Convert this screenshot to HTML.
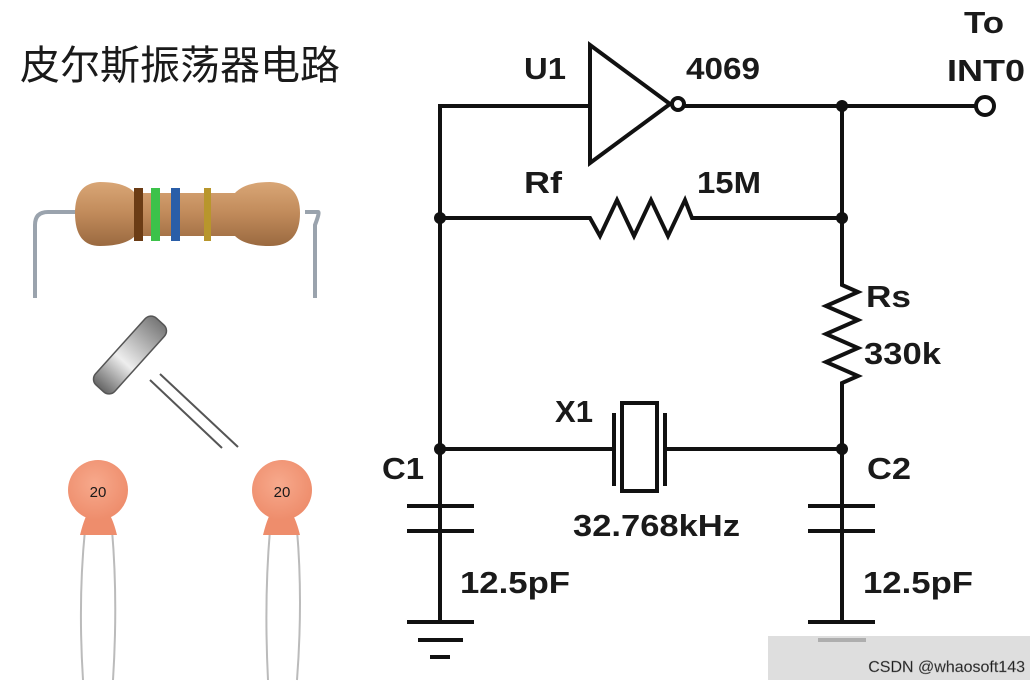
<!DOCTYPE html>
<html><head><meta charset="utf-8"><style>
body{margin:0;background:#fff;width:1035px;height:684px;overflow:hidden}
svg{display:block}
text{font-family:"Liberation Sans",Arial,sans-serif;font-weight:bold;fill:#1a1a1a}
</style></head><body>
<svg width="1035" height="684" viewBox="0 0 1035 684" xmlns="http://www.w3.org/2000/svg">
<defs>
<linearGradient id="rb" x1="0" y1="0" x2="0" y2="1"><stop offset="0" stop-color="#d9a676"/><stop offset="0.5" stop-color="#c08a5a"/><stop offset="1" stop-color="#9a6a40"/></linearGradient>
<linearGradient id="cy" x1="0" y1="0" x2="1" y2="0"><stop offset="0" stop-color="#666"/><stop offset="0.4" stop-color="#eee"/><stop offset="1" stop-color="#777"/></linearGradient>
<radialGradient id="cp" cx="0.45" cy="0.4" r="0.6"><stop offset="0" stop-color="#f7a98c"/><stop offset="1" stop-color="#ee8d6c"/></radialGradient>
</defs>
<text x="20" y="79" style="font-family:'Liberation Sans','Noto Sans CJK SC',sans-serif;font-weight:normal;font-size:40px" fill="#222">皮尔斯振荡器电路</text>
<!-- resistor photo -->
<path d="M35 298 V225 Q35 212 48 212 H80 M305 212 H318 Q320 212 315 225 V298" stroke="#9aa3ad" stroke-width="4" fill="none"/>
<path d="M75 213 Q75 183 100 182 Q125 182 135 193 H235 Q245 182 270 182 Q300 183 300 213 Q300 246 270 246 Q245 246 235 236 H135 Q125 246 100 246 Q75 246 75 213Z" fill="url(#rb)"/>
<rect x="134" y="188" width="9" height="53" fill="#6b3c15"/>
<rect x="151" y="188" width="9" height="53" fill="#3cc24a"/>
<rect x="171" y="188" width="9" height="53" fill="#2a5ea8"/>
<rect x="204" y="188" width="7" height="53" fill="#b8962c"/>
<!-- crystal photo -->
<line x1="150" y1="380" x2="222" y2="448" stroke="#555" stroke-width="2"/>
<line x1="160" y1="374" x2="238" y2="447" stroke="#555" stroke-width="2"/>
<g transform="rotate(-48 130 355)"><rect x="85" y="342" width="90" height="26" rx="8" fill="url(#cy)" stroke="#555" stroke-width="1.5"/></g>
<!-- capacitors photo -->
<g>
<path d="M83 680 Q78 600 85 530 M113 680 Q118 600 112 530" stroke="#bbb" stroke-width="2" fill="none"/>
<path d="M268 680 Q264 600 270 530 M297 680 Q303 600 297 530" stroke="#bbb" stroke-width="2" fill="none"/>
<path d="M80 535 Q85 515 90 510 L106 510 Q112 515 117 535Z" fill="#ee8d6c"/>
<path d="M263 535 Q268 515 273 510 L289 510 Q295 515 300 535Z" fill="#ee8d6c"/>
<circle cx="98" cy="490" r="30" fill="url(#cp)"/>
<circle cx="282" cy="490" r="30" fill="url(#cp)"/>
<text x="98" y="497" text-anchor="middle" style="font-size:15px;font-weight:normal" fill="#7a2a3a">20</text>
<text x="282" y="497" text-anchor="middle" style="font-size:15px;font-weight:normal" fill="#7a2a3a">20</text>
</g>
<!-- schematic -->
<g stroke="#111" stroke-width="4" fill="none" stroke-linejoin="miter">
<path d="M440 622 V106 H590"/>
<path d="M590 45 V163 L670 104 Z"/>
<circle cx="678" cy="104" r="6"/>
<path d="M684 106 H975"/>
<circle cx="985" cy="106" r="9"/>
<path d="M842 106 V285 L858 292 L826 306 L858 320 L826 334 L858 348 L826 362 L858 376 L842 383 V622"/>
<path d="M440 218 H590 L600 236 L617 200 L634 236 L651 200 L668 236 L685 200 L692 218 H842"/>
<path d="M440 449 H614 M665 449 H842"/>
<path d="M614 413 V486 M665 413 V486"/>
<rect x="622" y="403" width="35" height="88"/>
<path d="M407 506 H474 M407 531 H474 M440 531 V622"/>
<path d="M407 622 H474 M418 640 H463 M430 657 H450"/>
<path d="M808 506 H875 M808 531 H875"/>
<path d="M808 622 H875 M818 640 H866"/>
</g>
<g fill="#111">
<circle cx="842" cy="106" r="6"/><circle cx="440" cy="218" r="6"/><circle cx="842" cy="218" r="6"/>
<circle cx="440" cy="449" r="6"/><circle cx="842" cy="449" r="6"/>
</g>
<g style="font-size:31px">
<text x="524" y="79" textLength="42" lengthAdjust="spacingAndGlyphs">U1</text>
<text x="686" y="79" textLength="74" lengthAdjust="spacingAndGlyphs">4069</text>
<text x="964" y="33" textLength="40" lengthAdjust="spacingAndGlyphs">To</text>
<text x="947" y="81" textLength="78" lengthAdjust="spacingAndGlyphs">INT0</text>
<text x="524" y="193" textLength="38" lengthAdjust="spacingAndGlyphs">Rf</text>
<text x="697" y="193" textLength="64" lengthAdjust="spacingAndGlyphs">15M</text>
<text x="866" y="307" textLength="45" lengthAdjust="spacingAndGlyphs">Rs</text>
<text x="864" y="364" textLength="77" lengthAdjust="spacingAndGlyphs">330k</text>
<text x="555" y="422" textLength="38" lengthAdjust="spacingAndGlyphs">X1</text>
<text x="382" y="479" textLength="42" lengthAdjust="spacingAndGlyphs">C1</text>
<text x="867" y="479" textLength="44" lengthAdjust="spacingAndGlyphs">C2</text>
<text x="573" y="536" textLength="167" lengthAdjust="spacingAndGlyphs">32.768kHz</text>
<text x="460" y="593" textLength="110" lengthAdjust="spacingAndGlyphs">12.5pF</text>
<text x="863" y="593" textLength="110" lengthAdjust="spacingAndGlyphs">12.5pF</text>
</g>
<rect x="768" y="636" width="262" height="44" fill="#d6d6d6" opacity="0.8"/>
<text x="1025" y="672" text-anchor="end" style="font-size:16px;font-weight:normal" fill="#fff" stroke="#888" stroke-width="0.4">CSDN @whaosoft143</text>
</svg>
</body></html>
